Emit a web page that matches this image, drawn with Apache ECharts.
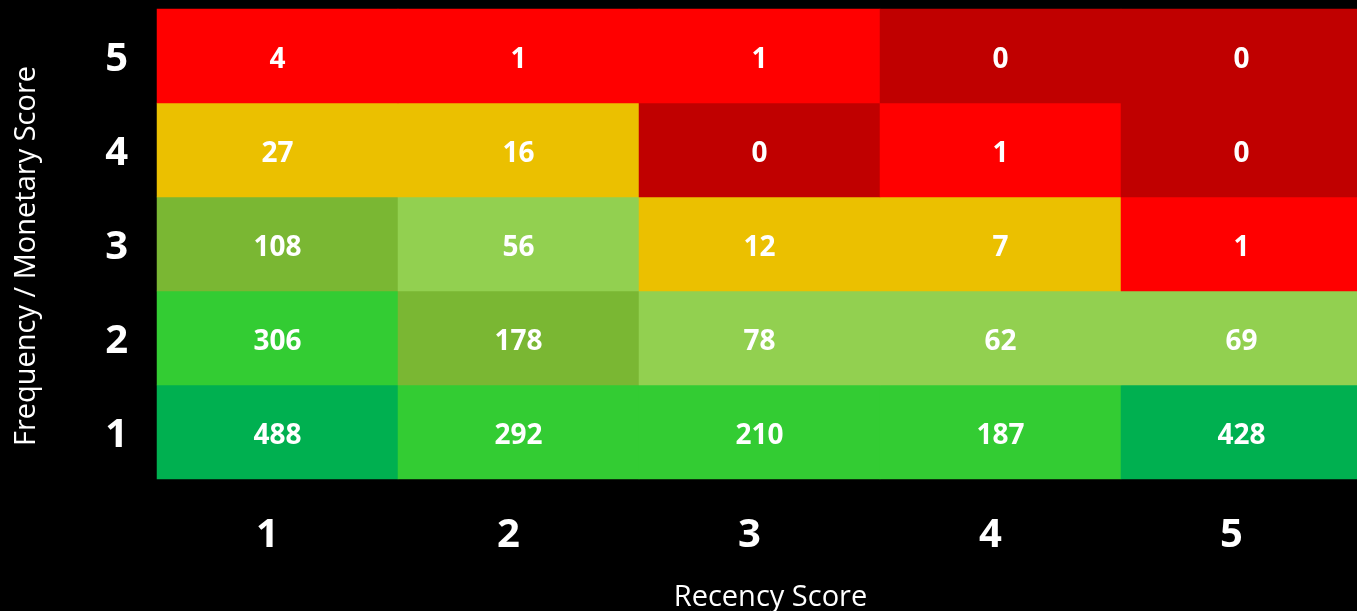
<!DOCTYPE html>
<html><head><meta charset="utf-8">
<script src="https://cdn.jsdelivr.net/npm/echarts@6/dist/echarts.min.js"></script>
<style>html,body{margin:0;padding:0;background:#000;}#c{width:1357px;height:611px;}</style>
</head><body><div id="c"></div>
<script>
const recency = ['1','2','3','4','5'];
const freqMon = ['1','2','3','4','5'];
// counts, rows from Frequency/Monetary score 1 (bottom) to 5 (top), columns Recency 1..5
const counts = [
  [488, 292, 210, 187, 428],
  [306, 178, 78, 62, 69],
  [108, 56, 12, 7, 1],
  [27, 16, 0, 1, 0],
  [4, 1, 1, 0, 0]
];
// colour band per cell (0 dark green .. 6 dark red)
const band = [
  [0, 1, 1, 1, 0],
  [1, 2, 3, 3, 3],
  [2, 3, 4, 4, 5],
  [4, 4, 6, 5, 6],
  [5, 5, 5, 6, 6]
];
const bandColors = ['#00B050', '#33CC33', '#7AB733', '#92D050', '#EBC000', '#FF0000', '#C00000'];

const data = [];
counts.forEach((row, yi) => row.forEach((v, xi) => data.push([xi, yi, v, band[yi][xi]])));

const font = '"Open Sans", sans-serif';
const chart = echarts.init(document.getElementById('c'));
chart.setOption({
  backgroundColor: '#000',
  animation: false,
  grid: { left: 157, top: 9, width: 1205, height: 470, containLabel: false, outerBoundsMode: 'none' },
  xAxis: {
    type: 'category', data: recency,
    name: 'Recency Score', nameLocation: 'middle', nameGap: 104,
    nameTextStyle: { color: '#fff', fontSize: 29, fontFamily: font, padding: [0, 0, 0, 22] },
    axisLine: { show: false }, axisTick: { show: false }, splitLine: { show: false },
    axisLabel: { color: '#fff', fontSize: 40, fontWeight: 'bold', fontFamily: font, margin: 37, padding: [0, 20, 0, 0] }
  },
  yAxis: {
    type: 'category', data: freqMon,
    name: 'Frequency / Monetary Score', nameLocation: 'middle', nameGap: 116,
    nameTextStyle: { color: '#fff', fontSize: 29, fontFamily: font, padding: [0, 24, 0, 0] },
    axisLine: { show: false }, axisTick: { show: false }, splitLine: { show: false },
    axisLabel: { color: '#fff', fontFamily: font, margin: 29,
      formatter: '{a|{value}}',
      rich: { a: { color: '#fff', fontSize: 40, fontWeight: 'bold', fontFamily: font, padding: [7, 0, 0, 0] } } }
  },
  visualMap: {
    show: false, type: 'piecewise', dimension: 3,
    pieces: bandColors.map((c, i) => ({ value: i, color: c }))
  },
  series: [{
    type: 'heatmap', data: data,
    encode: { x: 0, y: 1, value: 2 },
    label: { show: true, color: '#fff', fontSize: 28, fontWeight: 'bold', fontFamily: font,
      offset: [0, 4], formatter: p => p.data[2] },
    itemStyle: { borderWidth: 0 }
  }]
});
</script></body></html>
